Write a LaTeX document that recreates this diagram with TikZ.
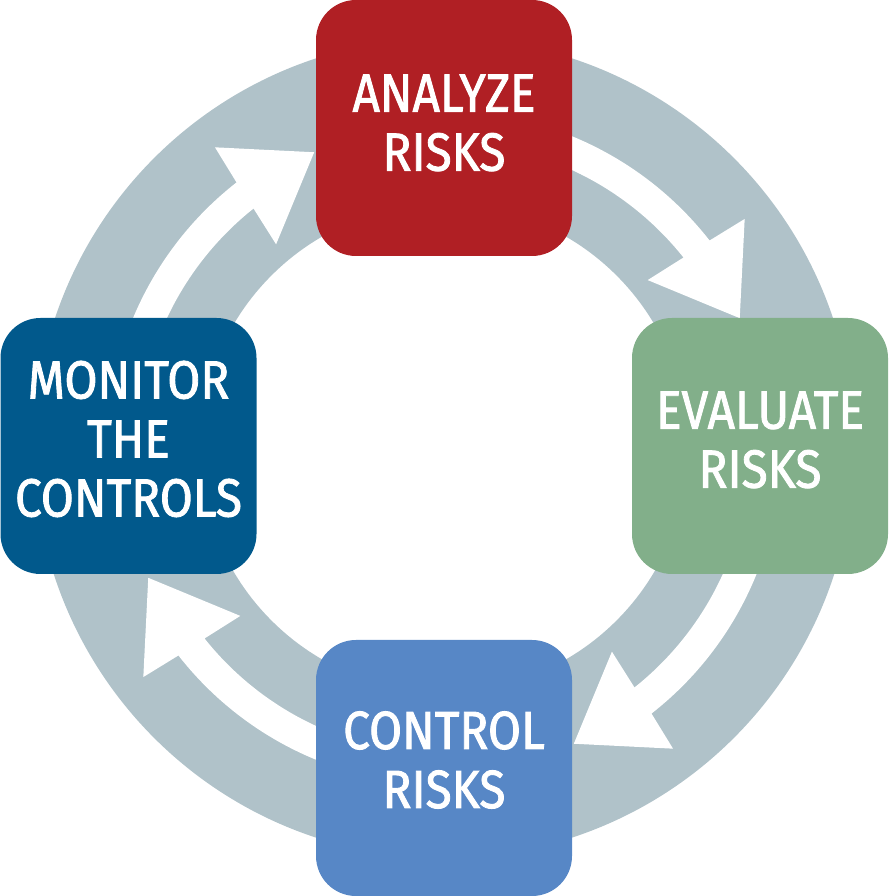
\documentclass[tikz,border=0pt]{standalone}
\usepackage{fontspec}
\setmainfont{Fira Sans}[FakeStretch=0.89,FakeBold=1.6]
\definecolor{ringc}{HTML}{B0C2C9}
\definecolor{anc}{HTML}{B01F24}
\definecolor{evc}{HTML}{82AF8A}
\definecolor{coc}{HTML}{5787C6}
\definecolor{moc}{HTML}{01598C}
\tikzset{
  box/.style={minimum width=256pt,minimum height=256pt,rounded corners=40pt,inner sep=0pt,draw=none},
  boxtext/.style={text=white,align=center,inner sep=0pt,font=\fontsize{53.7}{59}\selectfont},
}
\begin{document}
\begin{tikzpicture}[x=1pt,y=1pt]
\useasboundingbox (0,0) rectangle (888,896);
\coordinate (c) at (444,448);
% ring
\fill[ringc,even odd rule] (c) circle[radius=410pt] (c) circle[radius=244pt];
% arrows
\foreach \k in {0,1,2,3}{
  \begin{scope}[shift={(c)},rotate=-90*\k]
    \fill[white] (165:337pt) arc[start angle=165,end angle=128,radius=337pt]
      -- (127.3:378pt) -- (113.7:323pt) -- (129.5:264pt) -- (128.5:306pt)
      arc[start angle=128.5,end angle=165,radius=306pt] -- cycle;
  \end{scope}
}
% boxes
\node[box,fill=anc] (an) at (444,768) {};
\node[box,fill=evc] (ev) at (760,450) {};
\node[box,fill=coc] (co) at (444,128) {};
\node[box,fill=moc] (mo) at (128.5,450) {};
\node[boxtext] (ant) at ([yshift=5pt]an.center) {ANALYZE\\RISKS};
\node[boxtext] (evt) at ([yshift=6pt]ev.center) {EVALUATE\\RISKS};
\node[boxtext] (cot) at ([yshift=8pt]co.center) {CONTROL\\RISKS};
\node[boxtext] (mot) at ([yshift=7pt]mo.center) {MONITOR\\THE\\CONTROLS};
\end{tikzpicture}
\end{document}
